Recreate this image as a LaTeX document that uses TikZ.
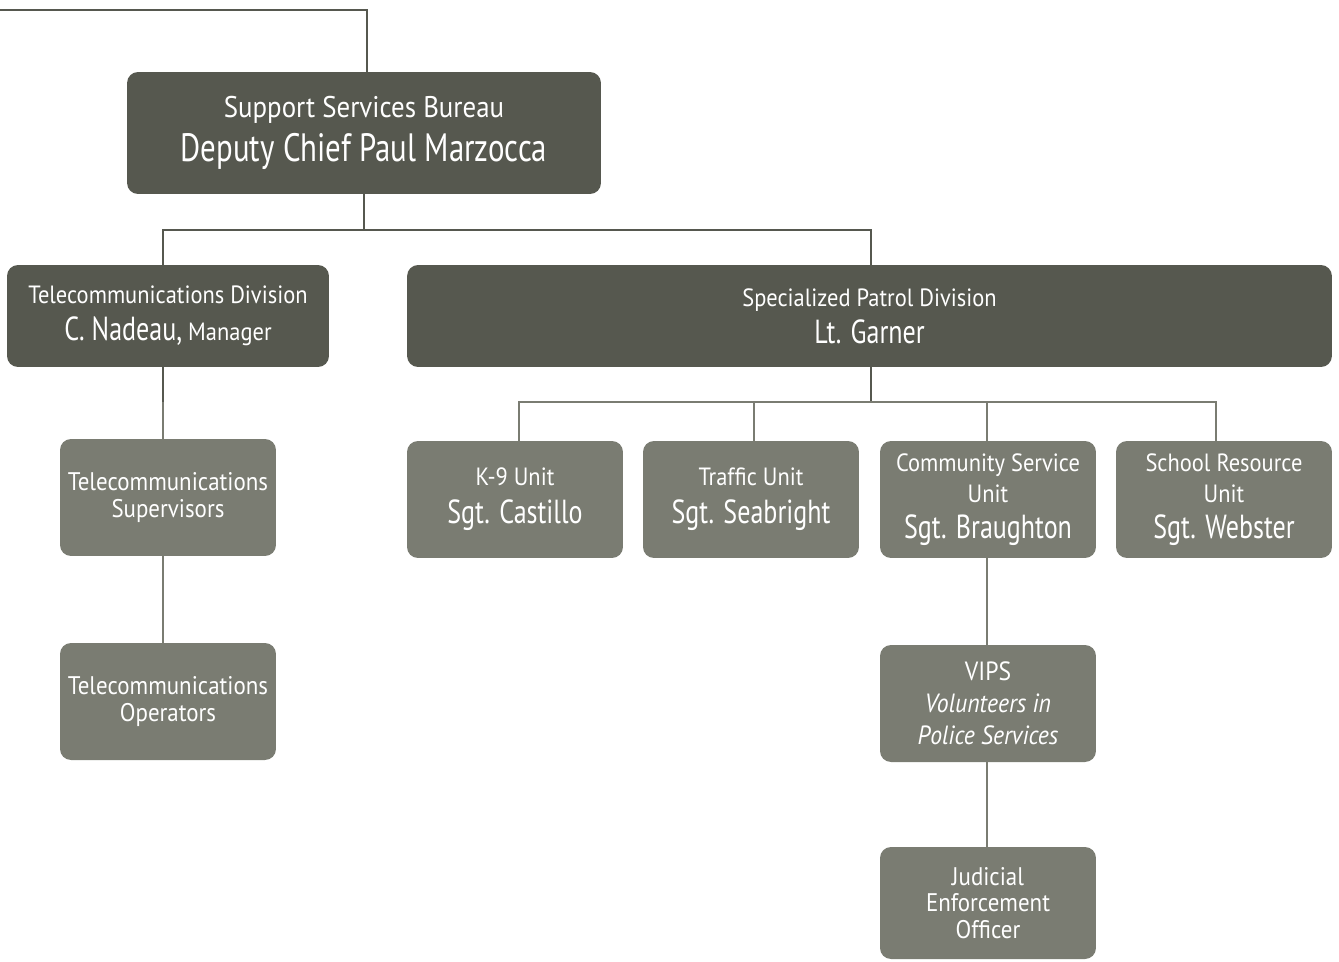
\documentclass[tikz,border=0pt]{standalone}
\usepackage{fontspec}
\setmainfont{PT Sans}[FakeStretch=0.78]
\newfontfamily\titlefont{PT Sans}[FakeStretch=0.9]
\usetikzlibrary{positioning}

\definecolor{bureaugray}{HTML}{56584F}
\definecolor{unitgray}{HTML}{7A7C72}

\newcommand{\unithead}[1]{{\rmfamily\fontsize{19}{23}\selectfont #1}}

\begin{document}
\begin{tikzpicture}[
    x=0.02cm, y=-0.02cm,
    bureau/.style={rectangle, fill=bureaugray, text=white, align=center, rounded corners=0.22cm, inner sep=0pt, minimum height=2.04cm},
    unit/.style={rectangle, fill=unitgray, text=white, align=center, rounded corners=0.22cm, inner sep=0pt, minimum width=4.32cm, minimum height=2.34cm,
        font=\titlefont\fontsize{14.2}{17.6}\selectfont},
    link/.style={draw=bureaugray, line width=1.2pt},
    sublink/.style={draw=unitgray, line width=1.2pt}
]
    \useasboundingbox (0,0) rectangle (1339,961);

    % bureau and divisions
    \node[bureau, minimum width=9.48cm, minimum height=2.44cm, font=\titlefont\fontsize{17}{20}\selectfont] (ssb) at (364,133)
        {Support Services Bureau\\[5pt]{\rmfamily\fontsize{22.5}{26}\selectfont Deputy Chief Paul Marzocca}};
    \node[bureau, minimum width=6.44cm, font=\titlefont\fontsize{14.2}{17}\selectfont] (telediv) at (168,316)
        {Telecommunications Division\\[4pt]\unithead{C. Nadeau,} Manager};
    \node[bureau, minimum width=18.5cm, font=\titlefont\fontsize{14.2}{17}\selectfont] (patrol) at (869.5,316)
        {Specialized Patrol Division\\[4pt]\unithead{Lt. Garner}};

    % telecommunications
    \node[unit, font=\titlefont\fontsize{14.5}{15.4}\selectfont] (telesup) at (168,497.5) {Telecommunications\\Supervisors};
    \node[unit, font=\titlefont\fontsize{14.5}{15.4}\selectfont] (teleop) at (168,701.5) {Telecommunications\\Operators};

    % patrol units
    \node[unit] (k9) at (515,499.5) {K-9 Unit\\[4pt]\unithead{Sgt. Castillo}};
    \node[unit] (traffic) at (751,499.5) {Traffic Unit\\[4pt]\unithead{Sgt. Seabright}};
    \node[unit] (community) at (988,499.5) {Community Service\\Unit\\[3pt]\unithead{Sgt. Braughton}};
    \node[unit] (school) at (1224,499.5) {School Resource\\Unit\\[3pt]\unithead{Sgt. Webster}};
    \node[unit, font=\titlefont\fontsize{15}{18.2}\selectfont] (vips) at (988,703.5) {VIPS\\\itshape Volunteers in\\\itshape Police Services};
    \node[unit, minimum height=2.24cm, font=\titlefont\fontsize{14.5}{15.2}\selectfont] (jeo) at (988,903) {Judicial\\Enforcement\\Officer};

    % connectors
    \coordinate (chief) at (0,10);
    \coordinate (up) at (367,10);
    \coordinate (fork) at (364,230);
    \coordinate (pfork) at (871,402);

    \draw[link] (ssb.north -| up) -- (up) -- (chief);
    \draw[link] (ssb) -- (fork);
    \draw[link] (telediv.north -| 163,0) |- (fork) -| (patrol.north -| pfork);
    \draw[link] (telediv.south -| 163,0) -- (163,402);
    \draw[sublink] (163,402) -- (telesup.north -| 163,0);
    \draw[sublink] (telesup.south -| 163,0) -- (teleop.north -| 163,0);
    \draw[link] (patrol.south -| pfork) -- (pfork);
    \draw[sublink] (k9.north -| 519,0) |- (pfork) -| (school.north -| 1216,0);
    \draw[sublink] (traffic.north -| 754,0) -- (754,402);
    \draw[sublink] (community.north -| 987,0) -- (987,402);
    \draw[sublink] (community.south -| 987,0) -- (vips.north -| 987,0);
    \draw[sublink] (vips.south -| 987,0) -- (jeo.north -| 987,0);
\end{tikzpicture}
\end{document}
